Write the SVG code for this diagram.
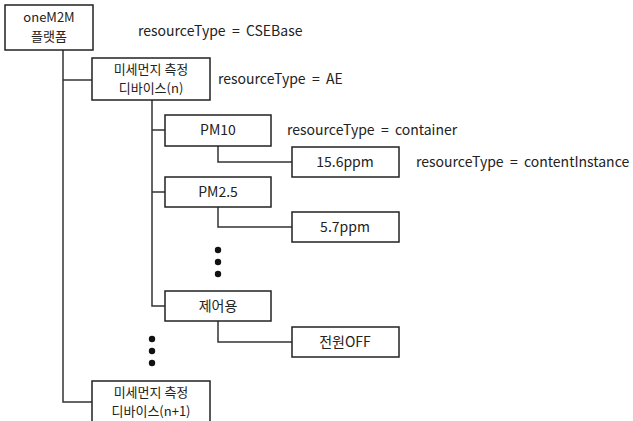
<svg xmlns="http://www.w3.org/2000/svg" width="633" height="421" viewBox="0 0 633 421">
<style>
.box{fill:#fff;stroke:#222;stroke-width:1.5}
.ln{fill:none;stroke:#333;stroke-width:1.5}
text{font-family:"Noto Sans CJK KR","Liberation Sans",sans-serif;font-size:14px;fill:#222;white-space:pre}
.c{text-anchor:middle}
.s{font-size:13px}
.dot{fill:#111}
</style>
<rect width="633" height="421" fill="#fff"/>
<g id="connectors">
<path class="ln" d="M63,50 V402 H92"/>
<path class="ln" d="M63,80 H92"/>
<path class="ln" d="M152,100 V306 H165"/>
<path class="ln" d="M152,130 H165"/>
<path class="ln" d="M152,192 H165"/>
<path class="ln" d="M218,145 V162 H292"/>
<path class="ln" d="M218,207 V227 H292"/>
<path class="ln" d="M218,321 V342 H292"/>
</g>
<g id="dots1">
<circle class="dot" cx="218" cy="250" r="3.2"/>
<circle class="dot" cx="218" cy="262" r="3.2"/>
<circle class="dot" cx="218" cy="274" r="3.2"/>
</g>
<g id="dots2">
<circle class="dot" cx="152" cy="339" r="3.2"/>
<circle class="dot" cx="152" cy="351" r="3.2"/>
<circle class="dot" cx="152" cy="363" r="3.2"/>
</g>
<g id="onem2m">
<rect class="box" x="5" y="5" width="88" height="45"/>
<text class="c s" x="49" y="22">oneM2M</text>
<text class="c s" x="49" y="41">플랫폼</text>
<text x="138" y="36" xml:space="preserve">resourceType  =  CSEBase</text>
</g>
<g id="device-n">
<rect class="box" x="92" y="58" width="118" height="42"/>
<text class="c s" x="151" y="74">미세먼지 측정</text>
<text class="c s" x="151" y="93">디바이스(n)</text>
<text x="218" y="84" xml:space="preserve">resourceType  =  AE</text>
</g>
<g id="pm10">
<rect class="box" x="165" y="115" width="106" height="31"/>
<text class="c" x="218" y="135">PM10</text>
<text x="287" y="135" xml:space="preserve">resourceType  =  container</text>
</g>
<g id="v156">
<rect class="box" x="292" y="147" width="107" height="30"/>
<text class="c" x="345" y="167">15.6ppm</text>
<text x="416" y="167" xml:space="preserve">resourceType  =  contentInstance</text>
</g>
<g id="pm25">
<rect class="box" x="165" y="177" width="106" height="30"/>
<text class="c" x="218" y="197">PM2.5</text>
</g>
<g id="v57">
<rect class="box" x="292" y="212" width="107" height="30"/>
<text class="c" x="345" y="232">5.7ppm</text>
</g>
<g id="control">
<rect class="box" x="165" y="291" width="106" height="30"/>
<text class="c" x="218" y="311">제어용</text>
</g>
<g id="poweroff">
<rect class="box" x="292" y="327" width="107" height="30"/>
<text class="c" x="345" y="347">전원OFF</text>
</g>
<g id="device-n1">
<rect class="box" x="92" y="381" width="118" height="45"/>
<text class="c s" x="151" y="397">미세먼지 측정</text>
<text class="c s" x="151" y="416">디바이스(n+1)</text>
</g>
</svg>
